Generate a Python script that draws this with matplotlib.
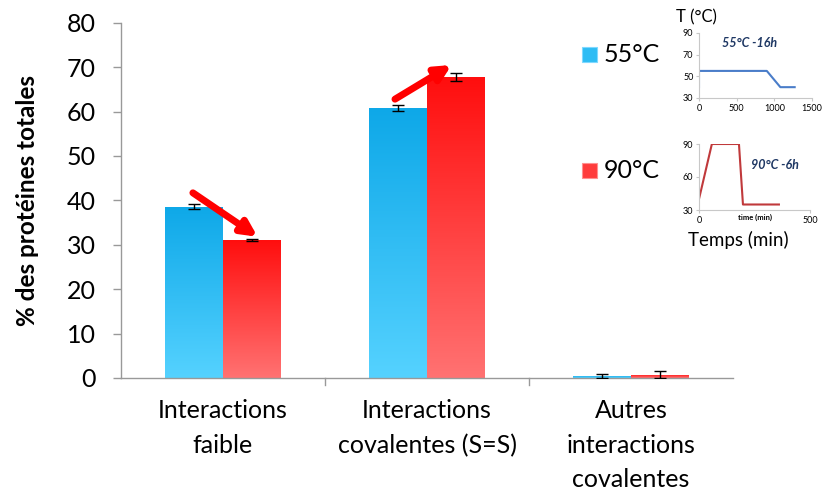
import numpy as np
import matplotlib.pyplot as plt
from matplotlib.colors import LinearSegmentedColormap

plt.rcParams['font.family'] = ['Lato', 'DejaVu Sans']

categories = ["Interactions\nfaible", "Interactions\ncovalentes (S=S)", "Autres\ninteractions\ncovalentes"]
vals_55 = [38.6, 60.8, 0.5]
err_55 = [0.5, 0.6, 0.4]
vals_90 = [31.0, 67.8, 0.7]
err_90 = [0.2, 1.0, 0.8]
yticks = [0, 10, 20, 30, 40, 50, 60, 70, 80]

# inset profiles (time in min, temperature in °C)
t55 = [0, 0, 900, 1080, 1270]
T55 = [40, 55, 55, 40, 40]
t90 = [0, 58, 180, 198, 360]
T90 = [40, 90, 90, 35, 35]

fig = plt.figure(figsize=(8.22, 4.96), dpi=100)
ax = fig.add_axes([0.147, 0.238, 0.745, 0.716])

blue_cmap = LinearSegmentedColormap.from_list("b", ["#55d2ff", "#0ea8e8"])
red_cmap = LinearSegmentedColormap.from_list("r", ["#ff7272", "#ff0e0e"])

w = 0.284
x = np.arange(len(categories))


def gradient_bars(xs, vals, cmap):
    bars = ax.bar(xs, vals, w, color="none", edgecolor="none", zorder=2)
    grad = np.linspace(0, 1, 256).reshape(-1, 1)
    for b in bars:
        x0, y0 = b.get_x(), b.get_y()
        x1, y1 = x0 + b.get_width(), y0 + b.get_height()
        im = ax.imshow(grad, cmap=cmap, origin="lower", aspect="auto",
                       extent=[x0, x1, y0, y1], zorder=2)
        im.set_clip_path(b)
    return bars


gradient_bars(x - w / 2, vals_55, blue_cmap)
gradient_bars(x + w / 2, vals_90, red_cmap)
ax.errorbar(x - w / 2, vals_55, yerr=err_55, fmt="none", ecolor="black",
            elinewidth=1, capsize=4, capthick=1, zorder=3)
ax.errorbar(x + w / 2, vals_90, yerr=err_90, fmt="none", ecolor="black",
            elinewidth=1, capsize=4, capthick=1, zorder=3)

ax.set_xlim(-0.5, 2.5)
ax.set_ylim(0, 80)
ax.set_yticks(yticks)
ax.set_yticklabels([str(v) for v in yticks], fontsize=18)
ax.set_xticks(x)
ax.set_xticklabels(categories, fontsize=18, linespacing=1.62, va="top")
ax.tick_params(axis="x", length=0, pad=15)
ax.tick_params(axis="y", length=6, color="#999999", width=1, pad=12)
for xs in [0.5, 1.5]:
    ax.plot([xs, xs], [0, -1.5], color="#999999", lw=1, clip_on=False)
for s in ["top", "right"]:
    ax.spines[s].set_visible(False)
for s in ["left", "bottom"]:
    ax.spines[s].set_color("#999999")
    ax.spines[s].set_linewidth(1)
ax.set_ylabel("% des protéines totales", fontsize=17.5, fontweight="bold", labelpad=20)

# trend arrows
for (xa, ya, xb, yb) in [(-0.147, 41.7, 0.17, 31.8), (0.843, 62.8, 1.12, 70.5)]:
    ax.annotate("", xy=(xb, yb), xytext=(xa, ya),
                arrowprops=dict(arrowstyle="-|>,head_length=0.9,head_width=0.45",
                                color="#ff0000", lw=5, shrinkA=0, shrinkB=0),
                zorder=4)

# legend
fig.patches.append(plt.Rectangle((582 / 822, 1 - 62 / 496), 15 / 822, 15 / 496,
                                 transform=fig.transFigure, facecolor="#2ebcf4",
                                 edgecolor="#7fd8ff", lw=0.8))
fig.patches.append(plt.Rectangle((582 / 822, 1 - 178 / 496), 15 / 822, 15 / 496,
                                 transform=fig.transFigure, facecolor="#ff3c3c",
                                 edgecolor="#ff9090", lw=0.8))
fig.text(604 / 822, 1 - 55 / 496, "55°C", fontsize=18, va="center", ha="left")
fig.text(604 / 822, 1 - 171 / 496, "90°C", fontsize=18, va="center", ha="left")

# inset: 55°C profile
ax1 = fig.add_axes([699 / 822, 1 - 98 / 496, 113 / 822, 65 / 496])
ax1.plot(t55, T55, color="#4a7dc9", lw=1.5)
ax1.set_xlim(0, 1500)
ax1.set_ylim(30, 90)
ax1.set_xticks([0, 500, 1000, 1500])
ax1.set_yticks([30, 50, 70, 90])
ax1.text(0.2, 0.78, "55°C -16h", transform=ax1.transAxes, fontsize=9,
         fontstyle="italic", fontweight="bold", color="#1f3864")
fig.text(676 / 822, 1 - 17 / 496, "T (°C)", fontsize=12, va="center", ha="left")

# inset: 90°C profile
ax2 = fig.add_axes([699 / 822, 1 - 210 / 496, 111 / 822, 66 / 496])
ax2.plot(t90, T90, color="#c0393b", lw=1.5)
ax2.set_xlim(0, 500)
ax2.set_ylim(30, 90)
ax2.set_xticks([0, 500])
ax2.set_yticks([30, 60, 90])
ax2.text(0.47, 0.62, "90°C -6h", transform=ax2.transAxes, fontsize=9,
         fontstyle="italic", fontweight="bold", color="#1f3864")
ax2.text(0.5, -0.05, "time (min)", transform=ax2.transAxes, fontsize=5.5,
         fontweight="bold", ha="center", va="top")
fig.text(738 / 822, 1 - 240 / 496, "Temps (min)", fontsize=13.5, va="center", ha="center")

for a in (ax1, ax2):
    for s in ["top", "right"]:
        a.spines[s].set_visible(False)
    for s in ["left", "bottom"]:
        a.spines[s].set_color("#c8c8c8")
        a.spines[s].set_linewidth(0.8)
    a.tick_params(labelsize=6.5, length=2, color="#c8c8c8", pad=2)

fig.savefig("out.png", dpi=100)
